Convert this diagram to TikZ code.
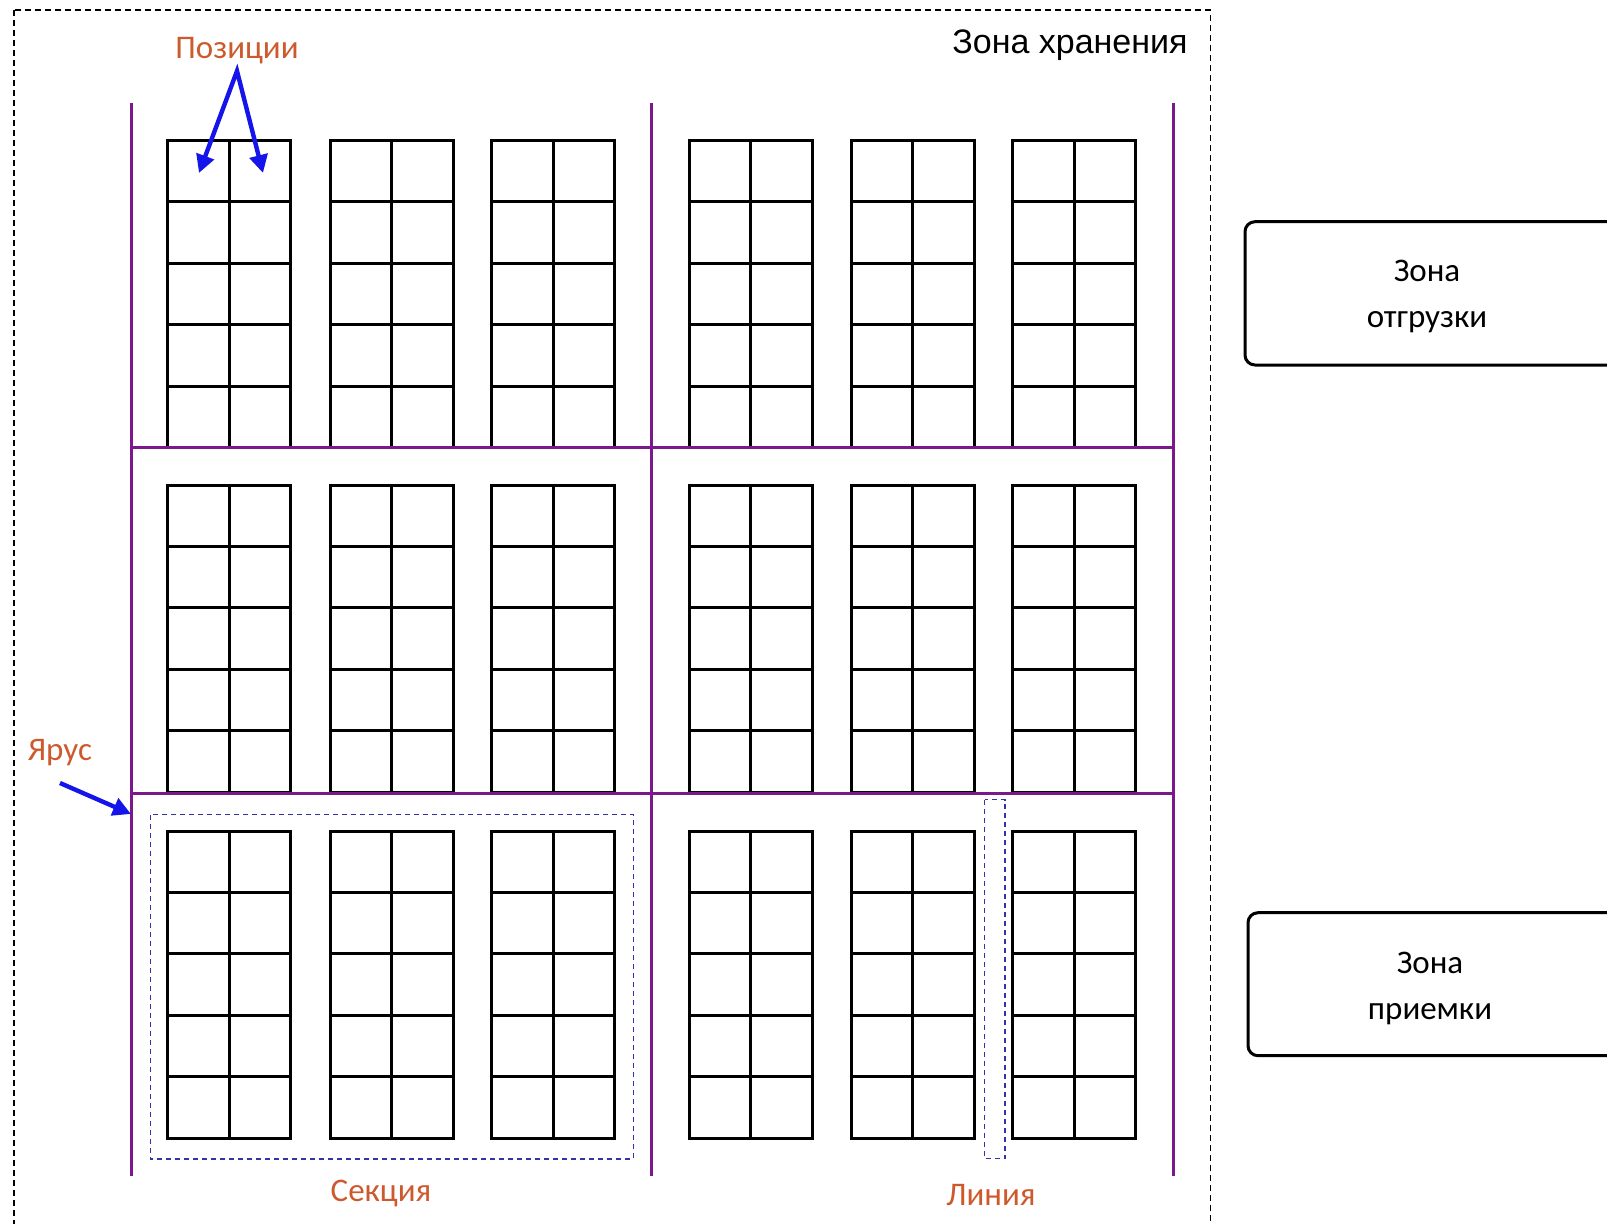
\documentclass[tikz,border=0pt]{standalone}
\usepackage{fontspec}
\setmainfont{Carlito}
\newfontfamily\arialf{Liberation Sans}
\usetikzlibrary{arrows.meta,calc}
\definecolor{shelfpurple}{RGB}{122,24,140}
\definecolor{lblorange}{RGB}{205,90,45}
\definecolor{arrblue}{RGB}{20,20,235}
\definecolor{dashblue}{RGB}{50,50,170}
\begin{document}
\begin{tikzpicture}[x=0.5pt,y=-0.5pt,
  rack/.style={draw, line width=1.5pt, minimum width=61.5pt, minimum height=153.5pt,
    inner sep=0pt, outer sep=0pt,
    path picture={
      \foreach \k in {1,...,4}
        \draw[line width=1.5pt]
          ($(path picture bounding box.north west)!\k/5!(path picture bounding box.south west)$) --
          ($(path picture bounding box.north east)!\k/5!(path picture bounding box.south east)$);
      \draw[line width=1.5pt] (path picture bounding box.north) -- (path picture bounding box.south);
    }},
  tier/.style={draw=shelfpurple, line width=1.5pt},
  lbl/.style={text=lblorange, font=\fontsize{16.5pt}{20pt}\selectfont, inner sep=0pt},
  zonetext/.style={align=center, font=\fontsize{16.5pt}{23pt}\selectfont, inner sep=0pt,
    outer sep=0pt, minimum width=180.5pt, minimum height=71.7pt},
  zoneframe/.style={draw, line width=1.5pt, rounded corners=5pt},
  barrow/.style={draw=arrblue, line width=2.2pt, line join=miter,
    arrows={-{Triangle[length=9pt,width=9pt]}}},
  outerdash/.style={draw, line width=0.8pt, dash pattern=on 3pt off 2pt},
  bluedash/.style={draw=dashblue, line width=0.7pt, dash pattern=on 2.5pt off 2pt}
]
\useasboundingbox (0,0) rectangle (1607,1223);

% storage zone frame (bottom edge lies just below the picture)
\draw[outerdash] (14,10) rectangle (1210.5,1232);
\node[font=\arialf\fontsize{17pt}{20pt}\selectfont, anchor=base, inner sep=0pt] (storage) at (1070,53) {Зона хранения};

% racks
\foreach \cx [count=\i] in {229.2,391.5,553,750.5,912.5,1074.2}
  \foreach \cy [count=\j] in {294,638.5,984.5}
    \node[rack] (rack-\j-\i) at (\cx,\cy) {};

% tiers (purple lines)
\draw[tier] (131,103) -- (131,1176);
\draw[tier] (651,103) -- (651,1176);
\draw[tier] (1173,103) -- (1173,1176);
\draw[tier] (131,447) -- (1173,447);
\draw[tier] (131,793) -- (1173,793);

% section and line highlights
\draw[bluedash] (150.7,814.5) rectangle (633.5,1159);
\draw[bluedash] (984.5,799.5) rectangle (1005,1158.5);

% labels
\node[lbl, anchor=base] (pos) at (237,58) {Позиции};
\node[lbl, anchor=base] (tierlbl) at (60,760) {Ярус};
\node[lbl, anchor=base] (sectlbl) at (381,1201.5) {Секция};
\node[lbl, anchor=base] (linelbl) at (991,1205) {Линия};

% arrows
\coordinate (posA) at (237,71);
\coordinate (posL) at (199,173);
\coordinate (posR) at (263,173);
\draw[barrow, arrows={{Triangle[length=9pt,width=9pt]}-{Triangle[length=9pt,width=9pt]}}] (posL) -- (posA) -- (posR);
\coordinate (tierS) at (60,783);
\coordinate (tierE) at (131,814);
\draw[barrow] (tierS) -- (tierE);

% side zones (their right sides run past the picture's edge)
\node[zonetext] (ship) at (1427,296.5) {Зона\\отгрузки};
\draw[zoneframe] ([shift={(-0.75pt,1.55pt)}]ship.north west) rectangle ([shift={(12pt,1.6pt)}]ship.south east);
\node[zonetext] (recv) at (1430,988) {Зона\\приемки};
\draw[zoneframe] ([shift={(-0.75pt,1.8pt)}]recv.north west) rectangle ([shift={(12pt,2pt)}]recv.south east);
\end{tikzpicture}
\end{document}
